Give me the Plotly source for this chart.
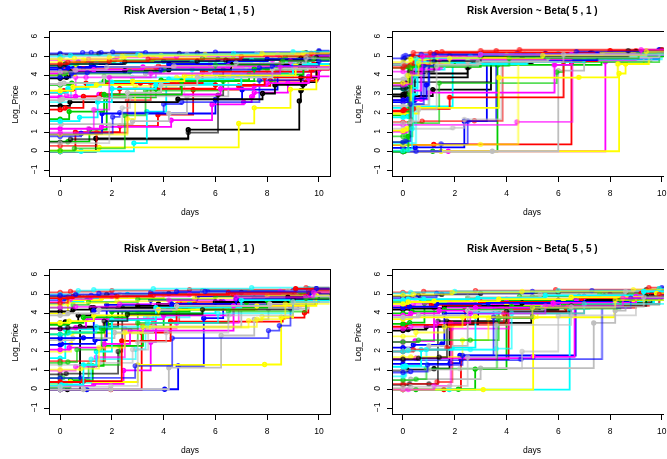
import plotly.graph_objects as go

# ---------------- data: price trajectories (day, log price) ----------------
# trajectories are listed in blocks of 8 following R's palette order:
# black, red, green3, blue, cyan, magenta, yellow, gray
BETA_1_5 = [
    [(0.0,0.0),(1.38,0.69),(4.95,1.15),(9.24,2.66),(9.3,3.2),(9.38,3.5),(9.5,3.65),(9.9,3.85),(10.0,4.35)],
    [(0.0,0.0),(0.59,1.02),(2.31,1.34),(3.78,1.94),(5.14,3.25),(6.9,3.45),(8.12,3.73),(9.95,4.45)],
    [(0.3,0.52),(1.13,1.16),(1.8,2.85),(3.7,3.3),(4.65,3.73),(6.2,3.95),(8.0,4.35),(9.5,4.75)],
    [(0.0,0.9),(0.81,0.95),(1.62,2.0),(6.0,2.74),(7.03,3.25),(8.4,4.2),(9.9,4.8)],
    [(0.0,0.0),(0.81,0.02),(2.85,0.45),(3.35,2.1),(4.1,3.6),(6.0,4.1),(8.8,4.6)],
    [(0.0,1.2),(1.6,1.3),(4.29,1.65),(5.87,2.48),(7.09,2.6),(7.4,2.88),(7.5,3.1),(8.8,3.6),(9.6,3.85),(10.0,4.3)],
    [(0.0,0.05),(1.51,0.22),(6.9,1.48),(7.5,2.3),(8.9,3.27),(9.9,4.5)],
    [(0.04,1.44),(2.8,1.6),(4.2,2.0),(4.9,2.9),(6.5,3.9),(9.0,4.4)],

    [(0.0,0.5),(0.4,0.65),(4.95,1.0),(6.1,2.97),(6.3,4.3),(8.6,4.6),(9.9,4.95)],
    [(0.0,0.3),(1.41,0.99),(2.6,2.7),(3.5,3.6),(5.5,4.2),(8.5,4.6),(9.9,5.0)],
    [(0.0,0.05),(0.55,0.17),(2.5,1.9),(3.3,3.2),(6.3,3.7),(8.3,4.4),(9.6,4.9)],
    [(0.0,0.8),(0.81,0.95),(2.03,1.82),(2.3,2.05),(4.0,2.5),(4.7,2.6),(7.7,3.75),(9.4,4.6)],
    [(0.0,2.6),(0.42,3.42),(1.58,3.6),(2.79,3.9),(5.1,4.3),(7.8,4.65),(10.0,5.05)],
    [(0.0,2.9),(0.25,2.95),(0.6,3.9),(1.0,3.9),(3.7,4.4),(8.2,4.8)],
    [(0.0,0.9),(2.6,1.72),(2.9,3.45),(4.5,3.9),(6.6,4.5),(9.8,5.0)],
    [(0.0,0.45),(1.9,1.4),(2.4,2.3),(2.7,2.9),(4.8,3.7),(7.0,4.25),(9.2,4.85)],

    [(0.0,2.4),(0.38,2.6),(4.55,2.75),(7.82,3.05),(8.3,3.5),(9.3,3.9),(9.9,4.6)],
    [(0.0,3.1),(0.15,3.2),(0.5,3.3),(1.0,3.6),(3.1,3.6),(5.5,4.2),(9.8,4.6)],
    [(0.0,3.5),(0.45,3.6),(1.7,3.7),(3.9,3.75),(7.3,4.05),(9.4,4.5)],
    [(0.0,4.4),(0.05,4.45),(1.2,4.6),(2.4,4.7),(4.0,4.75),(6.1,4.85),(9.6,5.1)],
    [(0.0,3.1),(0.3,3.3),(1.1,3.5),(2.0,3.65),(4.2,3.8),(6.7,4.0),(9.0,4.6)],
    [(0.0,2.85),(0.6,2.9),(1.5,3.0),(6.2,3.3),(7.5,3.45),(8.0,3.6),(9.6,3.95)],
    [(0.0,4.0),(0.6,4.6),(1.0,4.75),(3.6,4.9),(6.7,5.05),(9.9,5.2)],
    [(0.0,3.55),(0.15,3.6),(1.7,3.95),(3.3,4.1),(5.8,4.3),(7.2,4.5),(9.3,4.75)],

    [(0.0,5.1),(1.5,5.15),(4.6,5.16),(5.3,5.18),(9.5,5.2),(10.0,5.25)],
    [(0.0,4.2),(0.2,4.3),(0.9,4.35),(3.8,4.5),(5.8,4.6),(8.5,4.9),(9.8,5.0)],
    [(0.0,4.55),(0.7,4.7),(2.1,4.8),(5.5,4.9),(8.7,5.0),(9.9,5.1)],
    [(0.0,5.15),(0.87,5.2),(1.2,5.2),(1.58,5.2),(2.03,5.22),(3.3,5.2),(6.0,5.22),(10.0,5.3)],
    [(0.0,4.5),(0.4,4.6),(1.4,4.65),(5.1,4.7),(7.4,4.8),(9.6,5.0)],
    [(0.0,4.8),(1.1,4.85),(2.2,4.95),(4.5,5.0),(8.4,5.1)],
    [(0.0,4.7),(0.9,4.8),(2.5,5.0),(3.9,5.05),(5.6,5.1),(9.4,5.2)],
    [(0.0,4.9),(0.1,5.0),(1.9,5.05),(4.9,5.1),(7.6,5.15),(9.0,5.2)],

    [(0.0,3.85),(0.25,3.9),(0.38,4.2),(2.5,4.25),(4.2,4.3),(6.6,4.6),(9.3,4.9)],
    [(0.0,2.2),(0.2,2.3),(0.9,2.9),(1.6,3.0),(2.3,3.3),(6.0,3.5),(7.9,3.9),(9.7,4.3)],
    [(0.0,1.7),(0.35,2.1),(1.7,3.0),(4.7,3.7),(7.5,4.35),(9.2,4.8)],
    [(0.0,4.3),(0.3,4.4),(1.3,4.45),(4.2,4.6),(6.5,4.75),(8.0,4.85),(9.95,5.1)],
    [(0.0,1.6),(0.75,1.8),(1.45,2.6),(2.0,3.3),(3.7,3.5),(7.0,4.0),(9.0,4.5)],
    [(0.0,4.1),(0.6,4.25),(1.3,4.3),(3.2,4.45),(6.5,4.5),(8.9,4.75),(9.8,5.0)],
    [(0.0,3.2),(0.5,3.4),(1.4,3.5),(2.8,3.7),(4.8,4.0),(9.1,4.5)],
    [(0.0,2.7),(0.1,2.75),(1.5,2.8),(2.6,3.1),(3.9,3.5),(5.3,3.9),(8.2,4.35)],

    [(0.0,4.5),(0.2,4.6),(2.5,4.7),(5.3,4.75),(6.4,4.8),(9.9,4.95)],
    [(0.0,4.6),(0.3,4.7),(1.9,4.75),(3.4,4.85),(7.0,5.0),(9.7,5.15)],
    [(0.0,4.0),(0.2,4.1),(2.7,4.2),(4.0,4.3),(6.0,4.55),(8.6,4.75),(9.8,4.9)],
    [(0.0,3.9),(0.45,4.1),(1.05,4.15),(3.9,4.3),(7.7,4.4),(8.2,4.5),(10.0,4.75)],
    [(0.0,5.0),(0.4,5.05),(3.0,5.1),(6.7,5.15),(9.0,5.25)],
    [(0.0,1.0),(1.1,1.2),(1.3,2.2),(1.9,3.9),(3.5,4.1),(8.5,4.45)],
    [(0.0,4.85),(0.55,4.9),(1.9,4.95),(2.4,5.0),(3.1,5.05),(7.8,5.15)],
    [(0.0,4.2),(0.6,4.3),(1.8,4.45),(4.4,4.5),(6.8,4.65),(9.5,4.9)],
]

BETA_5_1 = [
    [(0.0,2.9),(0.05,2.92),(1.15,3.25),(3.4,4.75),(5.6,5.0),(7.24,5.17),(9.9,5.3)],
    [(0.0,0.35),(1.19,0.38),(6.51,4.69),(7.0,5.0),(9.5,5.25)],
    [(0.0,0.0),(1.15,0.02),(3.65,4.55),(7.67,4.95),(9.9,5.2)],
    [(0.0,0.2),(0.47,0.22),(2.37,1.6),(3.24,4.7),(6.0,4.85),(9.9,5.2)],
    [(0.0,2.3),(0.38,2.38),(1.92,4.55),(4.0,4.95),(8.0,5.2)],
    [(0.0,0.0),(1.75,0.02),(7.82,4.72),(8.5,5.05),(10.0,5.3)],
    [(0.0,0.0),(1.47,0.02),(8.35,4.1),(8.6,4.6),(9.3,5.0),(10.0,5.25)],
    [(0.0,0.0),(3.45,0.02),(6.0,4.25),(7.0,4.75),(9.6,5.2)],

    [(0.0,3.45),(0.02,3.65),(3.4,4.85),(5.8,5.05),(8.0,5.2)],
    [(0.0,1.55),(0.74,1.6),(2.76,1.62),(3.85,4.9),(6.0,5.1),(9.0,5.3)],
    [(0.0,0.8),(0.1,0.85),(0.25,1.5),(1.4,3.6),(5.94,4.17),(6.2,4.7),(9.9,5.1)],
    [(0.0,0.0),(0.5,0.02),(1.47,0.4),(2.5,1.6),(3.6,4.9),(9.9,5.3)],
    [(0.0,0.4),(0.15,0.45),(0.5,2.3),(1.0,4.6),(2.5,5.0),(6.0,5.15)],
    [(0.0,1.4),(4.4,1.56),(6.54,4.8),(9.0,5.2)],
    [(0.0,0.35),(2.99,0.38),(4.45,4.95),(6.0,5.1),(9.4,5.3)],
    [(0.0,1.2),(1.92,1.25),(2.37,1.69),(3.8,4.7),(6.4,5.0),(10.0,5.25)],

    [(0.0,3.0),(0.1,3.1),(0.45,4.1),(2.5,4.4),(2.6,4.65),(5.0,4.9),(8.3,5.1)],
    [(0.0,2.1),(0.4,2.25),(1.8,2.85),(6.2,4.75),(7.5,5.1)],
    [(0.0,1.9),(0.15,2.0),(0.2,4.45),(3.0,4.8),(7.0,5.1)],
    [(0.0,2.6),(0.45,2.7),(0.7,4.9),(3.0,5.0),(5.5,5.15),(9.9,5.35)],
    [(0.0,3.3),(0.15,3.35),(0.55,4.3),(1.6,4.6),(4.8,4.95),(8.5,5.2)],
    [(0.0,2.7),(0.7,2.75),(1.0,3.1),(5.85,4.55),(6.5,4.9),(9.6,5.2)],
    [(0.0,2.0),(0.6,2.3),(3.7,3.88),(6.79,3.9),(8.3,4.6),(9.5,5.1)],
    [(0.0,2.4),(0.3,2.45),(1.0,4.6),(3.0,4.8),(5.3,5.0),(9.0,5.2)],

    [(0.0,4.6),(0.05,4.9),(0.3,5.0),(1.8,5.05),(4.7,5.1),(7.3,5.2),(10.0,5.35)],
    [(0.0,4.5),(0.02,4.55),(0.4,5.2),(1.5,5.25),(3.6,5.3),(4.5,5.35)],
    [(0.0,4.4),(0.12,4.5),(0.4,4.8),(2.2,4.9),(6.2,5.0),(9.8,5.2)],
    [(0.0,4.9),(0.02,5.0),(0.1,5.05),(0.7,5.1),(4.4,5.15),(9.6,5.2),(10.0,5.3)],
    [(0.0,4.55),(0.5,4.6),(1.5,4.65),(3.5,4.7),(7.0,4.85),(10.0,5.1)],
    [(0.0,4.2),(0.4,4.3),(0.7,4.35),(1.5,4.8),(5.8,5.0),(9.0,5.25)],
    [(0.0,4.7),(0.7,4.8),(1.0,4.9),(3.8,5.0),(5.2,5.05),(9.6,5.2)],
    [(0.0,4.6),(0.35,4.7),(1.6,4.75),(4.1,4.85),(7.0,5.0),(9.8,5.25)],

    [(0.0,3.6),(0.05,3.65),(0.3,3.9),(2.5,4.85),(4.6,5.0),(9.0,5.25)],
    [(0.0,2.15),(0.05,2.2),(0.25,4.5),(0.4,5.0),(1.3,5.2),(8.0,5.3)],
    [(0.0,0.0),(0.05,0.02),(0.2,0.8),(0.35,4.5),(2.0,4.85),(5.0,5.0)],
    [(0.0,2.7),(0.2,2.75),(0.4,2.8),(0.9,3.5),(1.0,4.8),(7.5,5.1)],
    [(0.0,1.8),(0.2,1.85),(0.35,3.0),(0.55,4.7),(2.6,5.0),(9.4,5.25)],
    [(0.0,1.05),(0.1,1.1),(0.3,3.2),(0.7,4.3),(1.4,4.85),(6.5,5.1)],
    [(0.0,1.1),(0.15,1.2),(0.3,4.85),(1.3,4.95),(4.0,5.05),(7.7,5.2)],
    [(0.0,3.8),(0.15,4.0),(0.9,4.55),(2.5,4.75),(5.6,4.95),(9.9,5.2)],

    [(0.0,3.3),(0.1,3.35),(0.25,4.2),(1.2,4.75),(3.0,5.0),(8.7,5.3)],
    [(0.0,4.4),(0.05,4.5),(0.3,4.55),(1.05,5.2),(3.0,5.3),(10.0,5.35)],
    [(0.0,0.5),(0.1,0.6),(0.25,4.45),(0.6,4.5),(4.1,4.9),(9.1,5.15)],
    [(0.0,0.5),(0.1,0.55),(0.3,2.5),(0.8,4.5),(1.2,5.1),(6.7,5.25)],
    [(0.0,0.05),(0.2,0.1),(0.35,1.2),(0.4,3.9),(0.5,4.9),(3.0,5.1)],
    [(0.0,3.5),(0.1,3.55),(0.35,4.1),(0.75,5.0),(3.0,5.1),(9.2,5.35)],
    [(0.0,3.6),(0.2,4.0),(0.6,4.65),(1.8,4.9),(5.4,5.05),(9.4,5.25)],
    [(0.0,1.5),(0.3,1.6),(0.6,2.2),(1.3,4.5),(2.9,4.7),(6.2,5.1)],
]

BETA_1_1 = [
    [(0.0,0.0),(0.28,0.0),(0.77,3.31),(2.24,4.27),(5.0,4.5),(8.5,4.55),(9.9,5.0)],
    [(0.0,0.0),(1.96,0.0),(3.15,3.0),(4.27,3.57),(8.6,3.78),(9.44,4.04),(9.59,4.62),(10.0,5.0)],
    [(0.0,0.1),(0.4,0.5),(1.26,1.25),(1.68,2.3),(3.2,3.31),(4.0,4.2),(7.5,4.8),(9.9,5.2)],
    [(0.0,0.0),(1.03,0.0),(4.04,0.02),(4.56,1.25),(5.55,3.75),(6.3,4.6),(9.0,5.2)],
    [(0.0,1.65),(0.2,3.17),(2.0,3.7),(3.6,4.0),(6.0,4.6),(9.3,5.1)],
    [(0.0,0.2),(1.3,0.3),(2.45,1.01),(3.5,2.49),(3.7,4.4),(6.8,4.5),(9.0,4.9)],
    [(0.0,0.3),(0.4,0.4),(3.0,1.3),(7.9,1.32),(8.54,3.8),(9.0,4.5),(9.9,5.0)],
    [(0.0,0.0),(0.9,0.0),(1.96,0.02),(4.2,1.15),(6.22,2.84),(7.5,3.69),(8.05,4.25),(9.6,4.9)],

    [(0.0,0.8),(0.23,0.84),(2.24,2.0),(2.4,4.3),(5.2,4.5),(9.9,5.05)],
    [(0.0,1.5),(1.74,3.43),(3.6,3.5),(4.6,4.6),(6.9,4.7),(9.9,5.15)],
    [(0.0,0.6),(0.1,0.62),(1.1,1.3),(2.3,2.3),(3.0,4.1),(4.6,4.3),(8.7,4.8)],
    [(0.0,0.6),(0.8,0.62),(2.9,1.25),(4.33,2.7),(8.05,3.1),(8.47,3.36),(8.9,4.25),(9.2,4.55),(9.9,4.9)],
    [(0.0,0.3),(0.2,0.35),(1.2,1.6),(2.92,2.12),(3.3,3.8),(5.0,4.5),(8.0,5.0)],
    [(0.0,1.0),(0.6,1.2),(1.4,1.7),(2.5,3.2),(4.5,3.5),(6.9,4.55),(9.7,5.0)],
    [(0.0,2.0),(0.42,2.39),(0.45,2.95),(3.41,3.26),(7.28,3.62),(7.8,3.85),(9.0,4.6),(9.9,5.0)],
    [(0.0,1.3),(1.5,1.4),(2.8,2.1),(3.4,3.9),(6.5,4.3),(9.3,4.85)],

    [(0.0,3.5),(0.2,3.55),(0.7,3.9),(1.2,4.3),(3.8,4.5),(6.2,4.6),(9.0,4.8),(10.0,5.0)],
    [(0.0,0.4),(0.9,0.45),(2.38,2.56),(4.27,3.6),(4.5,4.45),(6.8,4.65),(9.5,5.1)],
    [(0.0,2.9),(0.3,3.0),(1.7,3.2),(1.8,3.45),(2.0,4.1),(5.0,4.4),(7.2,4.6),(9.5,5.0)],
    [(0.0,2.35),(0.05,2.4),(1.35,2.6),(1.8,4.45),(3.5,4.7),(5.3,4.9),(9.9,5.3)],
    [(0.0,4.5),(0.1,4.6),(0.9,4.8),(2.6,5.0),(5.5,5.2),(9.6,5.3)],
    [(0.0,3.2),(0.6,3.25),(1.0,3.7),(4.0,3.9),(6.7,4.4),(9.0,4.8)],
    [(0.0,4.0),(0.3,4.7),(1.6,4.8),(4.0,5.0),(7.3,5.1),(10.0,5.2)],
    [(0.0,2.6),(0.5,2.7),(2.1,3.0),(3.6,3.3),(7.0,4.25),(9.5,4.85)],

    [(0.0,4.9),(0.6,4.95),(1.8,5.0),(4.2,5.05),(7.0,5.1),(9.8,5.25)],
    [(0.0,5.1),(0.4,5.15),(2.0,5.2),(5.0,5.25),(9.5,5.35)],
    [(0.0,4.3),(0.5,4.45),(1.1,4.6),(3.0,4.75),(6.0,4.9),(9.3,5.1)],
    [(0.0,4.7),(0.2,4.8),(1.2,4.95),(3.5,5.1),(5.7,5.15),(9.1,5.25)],
    [(0.0,5.0),(0.7,5.2),(1.3,5.25),(3.6,5.3),(7.4,5.35)],
    [(0.0,4.6),(0.4,4.75),(1.2,4.85),(2.0,4.9),(5.0,5.0),(8.5,5.15)],
    [(0.0,4.45),(0.3,4.55),(2.2,4.65),(5.2,4.8),(8.0,4.95),(9.9,5.1)],
    [(0.0,4.8),(0.9,4.9),(2.3,5.0),(5.5,5.1),(8.8,5.2)],

    [(0.0,4.1),(0.5,4.2),(1.3,4.3),(3.0,4.4),(6.0,4.6),(8.8,4.85),(10.0,5.0)],
    [(0.0,4.8),(0.5,4.9),(3.5,5.0),(6.5,5.1),(9.1,5.3)],
    [(0.0,3.4),(0.3,3.5),(0.9,3.8),(2.6,4.0),(5.5,4.3),(8.0,4.7)],
    [(0.0,2.7),(0.9,2.72),(1.3,4.15),(4.3,4.5),(6.8,4.75),(9.6,5.0)],
    [(0.0,0.2),(0.05,0.25),(0.9,1.3),(1.4,2.0),(2.0,3.65),(3.7,4.3),(7.0,4.7)],
    [(0.0,2.1),(0.35,2.2),(1.7,2.4),(2.7,3.1),(6.7,4.4),(9.5,4.9)],
    [(0.0,3.5),(0.35,3.6),(1.3,3.9),(3.8,4.2),(7.6,4.4),(9.9,4.95)],
    [(0.0,3.9),(0.3,4.0),(1.5,4.2),(4.5,4.4),(8.1,4.5),(9.8,4.9)],

    [(0.0,3.2),(0.3,3.25),(1.7,3.6),(2.6,3.95),(5.5,4.2),(9.0,4.75)],
    [(0.0,4.55),(0.3,4.85),(2.2,4.9),(3.6,4.95),(6.7,5.0),(9.6,5.2)],
    [(0.0,1.4),(0.3,1.45),(0.65,2.1),(1.6,3.2),(3.0,3.5),(6.5,4.1),(9.5,4.8)],
    [(0.0,4.95),(0.6,5.0),(1.5,5.05),(4.5,5.15),(5.6,5.15),(9.9,5.3)],
    [(0.0,2.9),(0.35,3.0),(1.4,3.3),(3.4,3.5),(6.1,4.0),(9.0,4.6)],
    [(0.0,4.3),(0.6,4.35),(2.3,4.5),(4.2,4.7),(6.8,4.85),(9.8,5.1)],
    [(0.0,1.05),(0.8,1.1),(1.5,2.2),(2.5,3.0),(3.2,3.3),(7.6,3.7),(8.7,4.5)],
    [(0.0,0.15),(1.96,0.2),(3.0,2.5),(4.1,3.0),(6.5,3.9),(9.0,4.6)],
]

BETA_5_5 = [
    [(0.0,1.0),(0.15,1.05),(1.2,1.1),(1.8,3.5),(4.96,4.62),(7.78,4.91),(9.5,5.1)],
    [(0.0,0.0),(1.58,0.0),(2.24,1.6),(4.08,4.1),(6.3,4.3),(9.0,4.9)],
    [(0.0,0.0),(0.5,0.0),(2.14,0.02),(2.79,1.08),(4.0,4.3),(6.0,4.5),(9.2,5.0)],
    [(0.0,1.35),(1.82,1.39),(2.2,1.79),(6.67,4.7),(8.0,4.9),(9.9,5.2)],
    [(0.0,0.0),(1.79,0.0),(6.44,4.25),(7.2,4.6),(9.7,5.05)],
    [(0.0,1.6),(0.5,1.65),(5.03,1.72),(6.63,4.6),(8.0,5.0)],
    [(0.0,0.0),(3.1,0.0),(5.03,3.8),(8.17,4.53),(9.3,5.0)],
    [(0.0,0.5),(0.3,0.55),(3.0,1.13),(7.37,3.5),(8.2,4.15),(8.6,4.45),(9.9,5.0)],

    [(0.0,0.25),(0.25,0.3),(1.0,0.3),(1.35,3.6),(3.7,4.2),(5.9,4.55),(9.6,5.0)],
    [(0.0,0.3),(1.31,0.4),(1.9,3.4),(4.0,4.2),(6.0,4.4),(9.5,5.05)],
    [(0.0,0.5),(0.5,0.55),(0.9,1.1),(3.63,4.27),(6.0,4.5),(9.9,5.1)],
    [(0.0,1.55),(4.55,1.6),(7.69,4.45),(8.5,4.85),(10.0,5.2)],
    [(0.0,0.7),(0.05,0.75),(0.1,1.2),(0.9,2.1),(2.6,2.1),(3.6,4.0),(6.5,4.6),(9.0,5.0)],
    [(0.0,0.0),(0.2,0.0),(1.2,0.2),(1.85,3.2),(4.1,4.3),(8.0,4.9)],
    [(0.0,1.7),(0.3,1.72),(2.3,2.6),(3.3,3.75),(5.2,4.4),(8.8,5.0)],
    [(0.0,1.0),(1.0,1.05),(2.2,1.1),(4.6,2.0),(6.0,3.87),(6.5,3.9),(9.0,4.8)],

    [(0.0,3.1),(0.2,3.15),(0.9,3.3),(1.8,3.45),(2.9,4.2),(6.0,4.7),(9.1,5.0)],
    [(0.0,3.3),(0.1,3.4),(1.79,3.4),(2.4,4.2),(5.2,4.5),(8.7,4.95)],
    [(0.0,3.45),(0.26,3.52),(0.83,4.53),(2.8,4.7),(6.8,4.9),(9.5,5.15)],
    [(0.0,2.2),(0.4,2.35),(1.5,2.4),(1.6,4.0),(3.5,4.5),(7.0,4.9)],
    [(0.0,1.2),(0.1,1.25),(0.7,2.1),(1.9,2.2),(2.8,4.05),(5.5,4.5),(9.9,5.3)],
    [(0.0,2.5),(0.47,2.56),(1.2,4.3),(3.5,4.5),(6.7,4.6),(9.0,5.0)],
    [(0.0,3.7),(0.3,3.8),(2.8,3.85),(4.0,4.4),(6.2,4.6),(9.0,5.0)],
    [(0.0,2.0),(0.2,2.1),(1.0,2.3),(2.5,4.75),(5.0,4.9),(8.8,5.1)],

    [(0.0,4.9),(0.6,4.95),(1.5,5.0),(3.0,5.05),(6.0,5.1),(9.4,5.25)],
    [(0.0,5.1),(0.8,5.15),(2.8,5.2),(5.9,5.25),(9.5,5.35)],
    [(0.0,4.6),(0.7,4.7),(2.5,4.8),(4.5,4.9),(7.6,5.0),(9.9,5.2)],
    [(0.0,4.8),(0.5,4.85),(1.3,5.05),(5.0,5.15),(7.3,5.2),(10.0,5.35)],
    [(0.0,5.05),(0.3,5.1),(2.0,5.15),(6.0,5.2),(9.9,5.3)],
    [(0.0,4.4),(0.4,4.5),(1.8,4.6),(4.0,4.75),(7.0,4.85),(9.6,5.1)],
    [(0.0,4.95),(0.4,5.0),(1.9,5.1),(4.6,5.15),(8.9,5.25)],
    [(0.0,4.7),(0.5,4.75),(2.5,4.85),(5.3,5.0),(8.6,5.15)],

    [(0.0,4.2),(0.3,4.25),(1.6,4.4),(4.6,4.55),(7.2,4.75),(9.6,5.0)],
    [(0.0,4.3),(0.2,4.35),(1.1,4.45),(3.0,4.6),(6.9,4.8),(9.2,5.05)],
    [(0.0,4.0),(0.35,4.1),(1.6,4.2),(4.2,4.35),(6.2,4.5),(9.4,4.9)],
    [(0.0,4.3),(0.25,4.35),(1.3,4.5),(3.3,4.55),(6.0,4.6),(8.7,4.75),(10.0,5.0)],
    [(0.0,4.7),(0.2,4.75),(0.8,4.75),(2.9,4.8),(5.5,4.95),(9.3,5.15)],
    [(0.0,3.9),(0.3,4.0),(1.4,4.15),(2.8,4.3),(5.8,4.55),(9.0,4.9)],
    [(0.0,4.5),(0.2,4.6),(1.2,4.65),(3.7,4.75),(6.5,4.85),(9.8,5.05)],
    [(0.0,3.8),(0.6,3.9),(2.5,4.15),(5.4,4.3),(8.2,4.5),(9.9,4.9)],

    [(0.0,1.6),(0.6,1.65),(1.4,1.7),(1.7,3.6),(4.0,4.1),(6.5,4.4),(9.4,4.9)],
    [(0.0,2.0),(0.4,2.1),(1.7,2.2),(1.85,3.5),(3.9,4.0),(7.0,4.5),(9.9,5.0)],
    [(0.0,2.5),(0.6,2.6),(2.6,2.6),(3.7,3.75),(5.0,4.25),(8.4,4.7)],
    [(0.0,0.9),(0.3,0.95),(0.95,1.3),(2.3,1.8),(3.5,3.8),(5.0,4.3),(8.8,4.8)],
    [(0.0,2.0),(0.2,2.05),(0.9,2.1),(3.6,2.15),(4.2,4.0),(7.0,4.5)],
    [(0.0,3.2),(0.3,3.3),(1.3,3.5),(2.6,4.0),(5.5,4.4),(8.5,4.8)],
    [(0.0,2.8),(0.5,3.0),(1.6,3.3),(2.3,3.8),(5.0,4.3),(8.2,4.7)],
    [(0.0,0.1),(0.3,0.15),(1.8,0.2),(2.5,1.7),(3.6,3.4),(6.5,4.35),(9.3,4.85)],
]

TITLES = ["Risk Aversion ~ Beta( 1 , 5 )", "Risk Aversion ~ Beta( 5 , 1 )",
          "Risk Aversion ~ Beta( 1 , 1 )", "Risk Aversion ~ Beta( 5 , 5 )"]
X_TICKS = [0, 2, 4, 6, 8, 10]
Y_TICKS = [-1, 0, 1, 2, 3, 4, 5, 6]
X_LABEL = "days"
Y_LABEL = "Log_Price"

# ---------------- styling ----------------
PALETTE = ["#000000", "#FF0000", "#00CD00", "#0000FF", "#00FFFF", "#FF00FF", "#FFFF00", "#BEBEBE"]
W, H = 667, 459
FONT = "Liberation Sans, Arial, Helvetica, sans-serif"

# panel boxes in pixels: (left, top, right, bottom)
PX_PER_DAY = 26.0
BOXES = [(50, 32, 331, 176), (394.4, 32, 667, 176), (50, 270, 331, 414), (394.4, 270, 667, 414)]
YR = [-1.28, 6.28]

panels = [BETA_1_5, BETA_5_1, BETA_1_1, BETA_5_5]

fig = go.Figure()
layout = dict(width=W, height=H, margin=dict(l=0, r=0, t=0, b=0),
              paper_bgcolor="white", plot_bgcolor="white", showlegend=False,
              font=dict(family=FONT, color="#000000"))
annotations = []

for p, (data, box) in enumerate(zip(panels, BOXES)):
    l, t, r, b = box
    xr = [-0.4, -0.4 + (r - l) / PX_PER_DAY]
    ax = "" if p == 0 else str(p + 1)
    right_cut = r >= W
    layout["xaxis" + ax] = dict(
        domain=[l / W, r / W], range=xr, anchor="y" + ax,
        tickvals=X_TICKS, ticks="outside", ticklen=5, tickwidth=1, tickcolor="black",
        showline=True, linecolor="black", linewidth=1, mirror=True,
        showgrid=False, zeroline=False, tickfont=dict(size=8.5, family=FONT),
        ticklabelstandoff=4, ticklabeloverflow="allow")
    layout["yaxis" + ax] = dict(
        domain=[1 - b / H, 1 - t / H], range=YR, anchor="x" + ax,
        tickvals=Y_TICKS, ticks="outside", ticklen=5, tickwidth=1, tickcolor="black",
        showline=True, linecolor="black", linewidth=1, mirror=not right_cut,
        showgrid=False, zeroline=False, tickangle=-90, tickfont=dict(size=8.5, family=FONT),
        ticklabelstandoff=3)
    cx = (l + (l + 10.8 * PX_PER_DAY)) / 2
    annotations.append(dict(text="<b>" + TITLES[p] + "</b>", x=cx / W, y=1 - (t - 21.5) / H,
                            xref="paper", yref="paper", showarrow=False,
                            font=dict(size=10, family=FONT), xanchor="center", yanchor="middle"))
    annotations.append(dict(text=X_LABEL, x=cx / W, y=1 - (b + 36) / H, xref="paper", yref="paper",
                            showarrow=False, font=dict(size=8.5, family=FONT),
                            xanchor="center", yanchor="middle"))
    annotations.append(dict(text=Y_LABEL, x=(l - 34.5) / W, y=1 - (t + b) / 2 / H, xref="paper",
                            yref="paper", showarrow=False, textangle=-90,
                            font=dict(size=8.5, family=FONT), xanchor="center", yanchor="middle"))

    for i, traj in enumerate(data):
        col = PALETTE[i % 8]
        op = 1.0 if (i // 8) % 2 == 0 else 0.65
        ts = [q[0] for q in traj]
        ys = [q[1] for q in traj]
        xs_line = [xr[0] - 1] + ts + [xr[1] + 1]
        ys_line = [ys[0]] + ys + [ys[-1]]
        fig.add_trace(go.Scatter(x=xs_line, y=ys_line, mode="lines", line_shape="hv",
                                 line=dict(color=col, width=1.8), opacity=op,
                                 xaxis="x" + ax, yaxis="y" + ax, hoverinfo="skip"))
        fig.add_trace(go.Scatter(x=ts, y=ys, mode="markers",
                                 marker=dict(symbol="circle-open", size=3.6, color=col,
                                             line=dict(width=1.7, color=col)),
                                 opacity=op, xaxis="x" + ax, yaxis="y" + ax, hoverinfo="skip"))

layout["annotations"] = annotations
fig.update_layout(**layout)
fig.write_html("out.html")
